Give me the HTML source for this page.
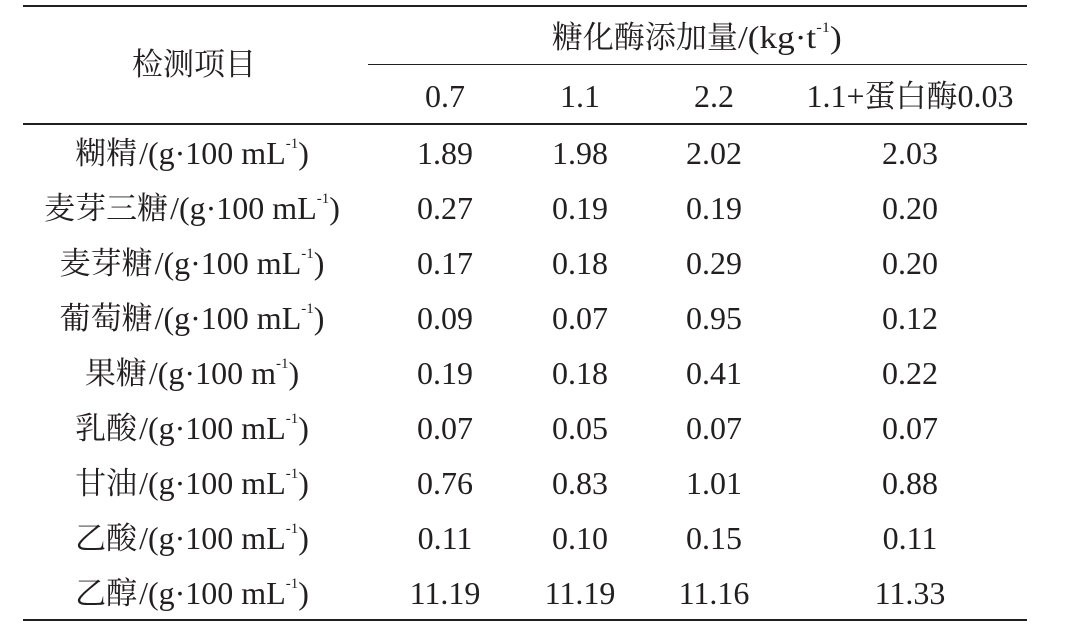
<!DOCTYPE html>
<html><head><meta charset="utf-8"><style>
body{margin:0;width:1076px;height:626px;background:#fff;position:relative;overflow:hidden;font-family:"Liberation Serif","Noto Serif CJK SC",serif;font-size:31px;color:#231f20}
.l{position:absolute;background:#231f20}
.t{position:absolute;text-align:center;white-space:nowrap;line-height:36px;height:36px}
.n{display:inline-block;font-size:32px}
.u{display:inline-block;font-size:32px;transform:scaleX(1.1);transform-origin:left center;margin-right:18px}
.v{font-size:32px;margin-left:2px}
sup{font-size:15px;vertical-align:top;line-height:18px}
</style></head><body>
<div class="l" style="left:23px;top:5px;width:1004px;height:2px"></div>
<div class="l" style="left:368px;top:64px;width:659px;height:1px"></div>
<div class="l" style="left:23px;top:123px;width:1004px;height:1.5px"></div>
<div class="l" style="left:23px;top:619px;width:1004px;height:2px"></div>
<div class="t" style="left:44px;width:300px;top:47px">检测项目</div>
<div class="t" style="left:491px;width:420px;top:19px">糖化酶添加量<span class="u">/(kg·t<sup>-1</sup>)</span></div>
<div id="h"></div>
<script>
var cols=[445,580,714,910];
var hdr=['<span class="n">0.7</span>','<span class="n">1.1</span>','<span class="n">2.2</span>','<span class="n">1.1+</span>蛋白酶<span class="n">0.03</span>'];
var U='<span class="v">/(g·100 mL<sup>-1</sup>)</span>';
var rows=[["糊精"+U,"1.89","1.98","2.02","2.03"],
["麦芽三糖"+U,"0.27","0.19","0.19","0.20"],
["麦芽糖"+U,"0.17","0.18","0.29","0.20"],
["葡萄糖"+U,"0.09","0.07","0.95","0.12"],
["果糖"+'<span class="v">/(g·100 m<sup>-1</sup>)</span>',"0.19","0.18","0.41","0.22"],
["乳酸"+U,"0.07","0.05","0.07","0.07"],
["甘油"+U,"0.76","0.83","1.01","0.88"],
["乙酸"+U,"0.11","0.10","0.15","0.11"],
["乙醇"+U,"11.19","11.19","11.16","11.33"]];
var s="";
function c(x,y,t){s+='<div class="t" style="left:'+(x-200)+'px;width:400px;top:'+(y-18)+'px">'+t+'</div>';}
hdr.forEach(function(h,i){c(cols[i],96,h);});
rows.forEach(function(r,j){var y=153+55*j;c(192,y,r[0]);for(var i=0;i<4;i++)c(cols[i],y,'<span class="n">'+r[i+1]+'</span>');});
document.getElementById("h").innerHTML=s;
</script>
</body></html>
